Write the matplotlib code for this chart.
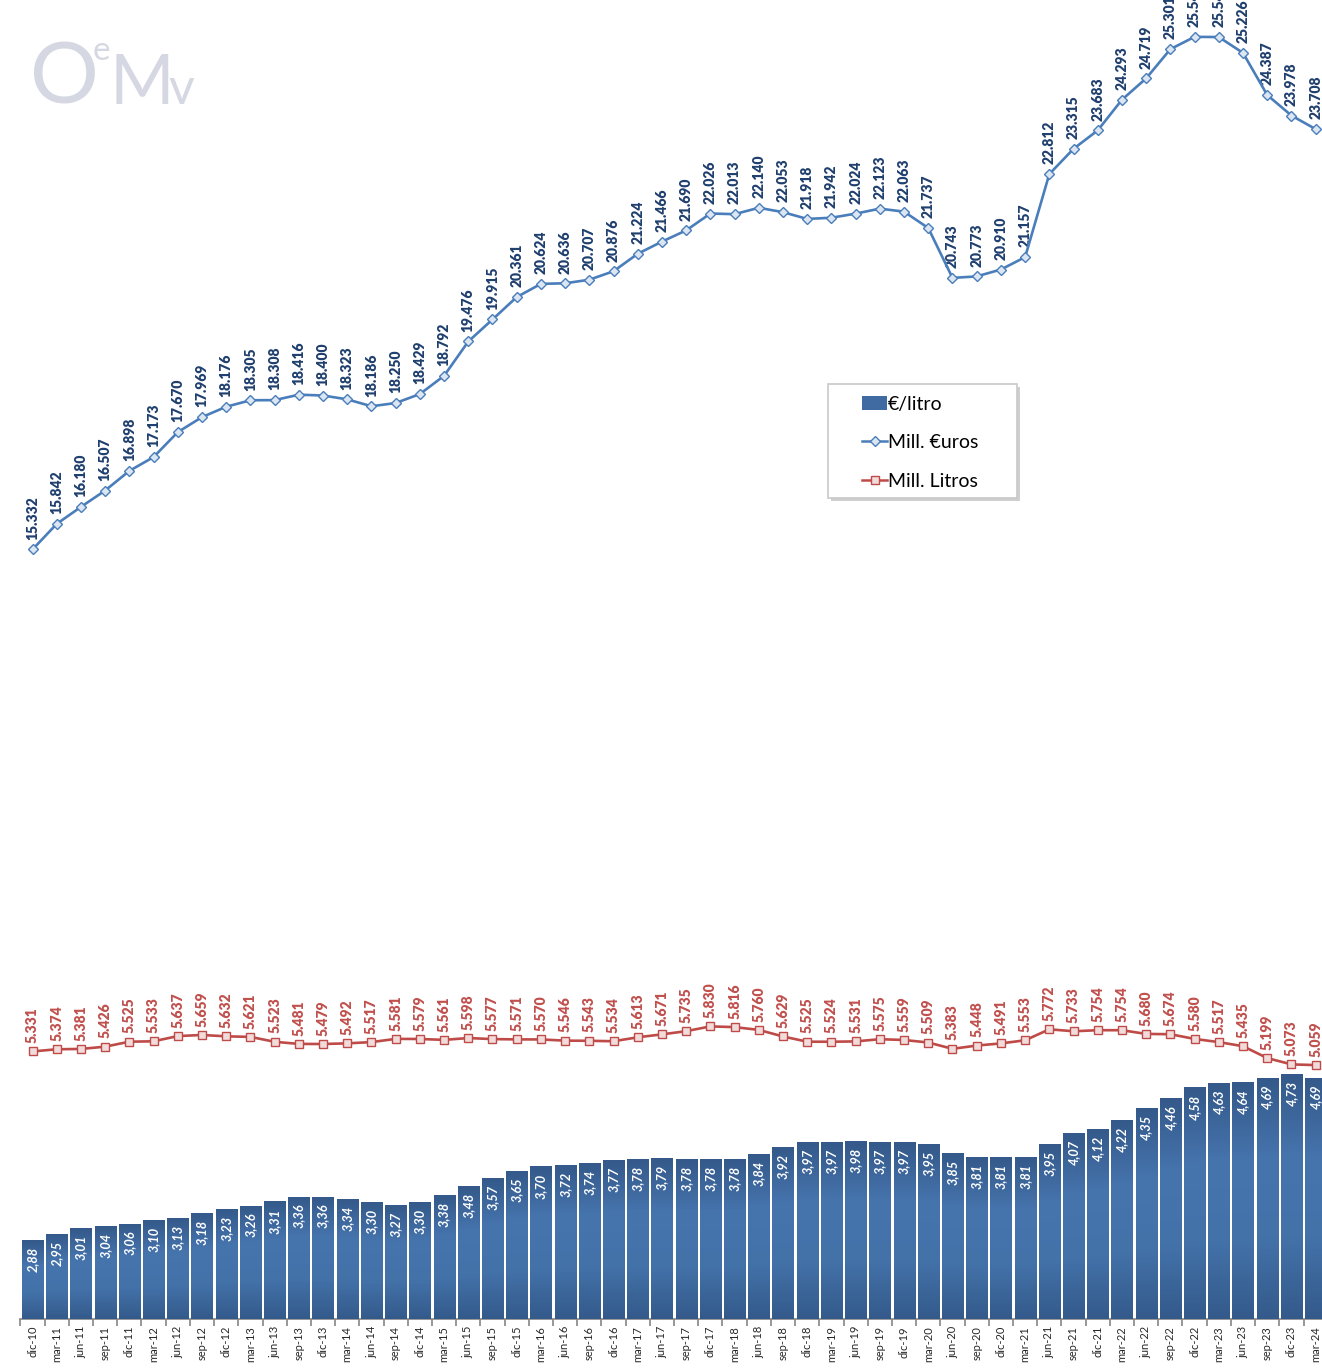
import numpy as np
import matplotlib.pyplot as plt
from matplotlib.colors import LinearSegmentedColormap
from matplotlib.patches import Rectangle, Patch
from matplotlib.lines import Line2D

plt.rcParams['font.family'] = ['Lato', 'DejaVu Sans']

# trimestres
periodos = [
    'dic-10', 'mar-11', 'jun-11', 'sep-11', 'dic-11', 'mar-12', 'jun-12', 'sep-12', 'dic-12',
    'mar-13', 'jun-13', 'sep-13', 'dic-13', 'mar-14', 'jun-14', 'sep-14', 'dic-14',
    'mar-15', 'jun-15', 'sep-15', 'dic-15', 'mar-16', 'jun-16', 'sep-16', 'dic-16',
    'mar-17', 'jun-17', 'sep-17', 'dic-17', 'mar-18', 'jun-18', 'sep-18', 'dic-18',
    'mar-19', 'jun-19', 'sep-19', 'dic-19', 'mar-20', 'jun-20', 'sep-20', 'dic-20',
    'mar-21', 'jun-21', 'sep-21', 'dic-21', 'mar-22', 'jun-22', 'sep-22', 'dic-22',
    'mar-23', 'jun-23', 'sep-23', 'dic-23', 'mar-24',
]

eur_litro = [
    2.88, 2.95, 3.01, 3.04, 3.06, 3.10, 3.13, 3.18, 3.23, 3.26,
    3.31, 3.36, 3.36, 3.34, 3.30, 3.27, 3.30, 3.38, 3.48, 3.57,
    3.65, 3.70, 3.72, 3.74, 3.77, 3.78, 3.79, 3.78, 3.78, 3.78,
    3.84, 3.92, 3.97, 3.97, 3.98, 3.97, 3.97, 3.95, 3.85, 3.81,
    3.81, 3.81, 3.95, 4.07, 4.12, 4.22, 4.35, 4.46, 4.58, 4.63,
    4.64, 4.69, 4.73, 4.69,
]

mill_euros = [
    15332, 15842, 16180, 16507, 16898, 17173, 17670, 17969, 18176, 18305,
    18308, 18416, 18400, 18323, 18186, 18250, 18429, 18792, 19476, 19915,
    20361, 20624, 20636, 20707, 20876, 21224, 21466, 21690, 22026, 22013,
    22140, 22053, 21918, 21942, 22024, 22123, 22063, 21737, 20743, 20773,
    20910, 21157, 22812, 23315, 23683, 24293, 24719, 25301, 25546, 25542,
    25226, 24387, 23978, 23708,
]

mill_litros = [
    5331, 5374, 5381, 5426, 5525, 5533, 5637, 5659, 5632, 5621,
    5523, 5481, 5479, 5492, 5517, 5581, 5579, 5561, 5598, 5577,
    5571, 5570, 5546, 5543, 5534, 5613, 5671, 5735, 5830, 5816,
    5760, 5629, 5525, 5524, 5531, 5575, 5559, 5509, 5383, 5448,
    5491, 5553, 5772, 5733, 5754, 5754, 5680, 5674, 5580, 5517,
    5435, 5199, 5073, 5059,
]

W, H = 1322, 1372
fig = plt.figure(figsize=(W / 100, H / 100), dpi=100)

# el gráfico original está recortado por arriba y por la derecha
paso = 24.21
x_izq, y_base = 20.4, 1319
ax = fig.add_axes([x_izq / W, (H - y_base) / H, len(periodos) * paso / W, y_base / H])
ax2 = ax.twinx()

x = np.arange(len(periodos))

# barras €/litro con degradado
ax.set_ylim(2.0, 2.0 + y_base / 89.73)
ax.set_xlim(-0.5, len(periodos) - 0.5)
barras = ax.bar(x, eur_litro, width=0.87, color='#3F6BA2', zorder=2)
cmap = LinearSegmentedColormap.from_list('barra', ['#34598A', '#4674AD', '#4372A9', '#345A8B'])
grad = np.linspace(0, 1, 256).reshape(-1, 1)
for b in barras:
    x0 = b.get_x()
    im = ax.imshow(grad, extent=[x0, x0 + b.get_width(), 2.0, b.get_height()],
                   aspect='auto', cmap=cmap, origin='upper', zorder=3)
    im.set_clip_path(b)
ax.set_xlim(-0.5, len(periodos) - 0.5)
ax.set_ylim(2.0, 2.0 + y_base / 89.73)

for xi, v in zip(x, eur_litro):
    ax.annotate(f'{v:.2f}'.replace('.', ','), (xi, v), xytext=(0, -5), textcoords='offset points',
                rotation=90, ha='center', va='top', color='white', fontsize=9.2,
                fontweight='bold', fontstyle='italic', zorder=5)

# líneas
ax2.set_ylim(0, y_base / 50.19 * 1000)
ax2.plot(x, mill_euros, color='#4A7EBB', lw=1.9, marker='D', ms=5.5,
         mfc='#DCE6F2', mec='#4A7EBB', mew=1, zorder=4)
ax2.plot(x, mill_litros, color='#BE4B48', lw=1.9, marker='s', ms=6,
         mfc='#F2DCDB', mec='#BE4B48', mew=1, zorder=4)

for xi, v in zip(x, mill_euros):
    ax2.annotate(f'{v:,}'.replace(',', '.'), (xi, v), xytext=(0, 7), textcoords='offset points',
                 rotation=90, ha='center', va='bottom', color='#1F3F6E', fontsize=10,
                 fontweight='heavy')
for xi, v in zip(x, mill_litros):
    ax2.annotate(f'{v:,}'.replace(',', '.'), (xi, v), xytext=(0, 6), textcoords='offset points',
                 rotation=90, ha='center', va='bottom', color='#C0504D', fontsize=10,
                 fontweight='heavy')

# ejes
for a in (ax, ax2):
    for s in ('top', 'right', 'left'):
        a.spines[s].set_visible(False)
    a.set_yticks([])
ax2.spines['bottom'].set_visible(False)
ax.spines['bottom'].set_color('#868686')
ax.spines['bottom'].set_linewidth(1.2)
ax.set_xticks(x)
ax.set_xticklabels(periodos, rotation=90, fontsize=8, color='#262626')
ax.tick_params(axis='x', which='major', length=0, pad=5)
ax.set_xticks(np.arange(len(periodos) + 1) - 0.5, minor=True)
ax.tick_params(axis='x', which='minor', length=5, color='#868686', width=1.2)

# leyenda
lx0, ly0, lx1, ly1 = 828, 384, 1017, 498
fig.patches.append(Rectangle(((lx0 + 3) / W, 1 - (ly1 + 3) / H), (lx1 - lx0) / W, (ly1 - ly0) / H,
                             transform=fig.transFigure, facecolor='#B0B0B0', edgecolor='none',
                             alpha=0.6, zorder=8))
fig.patches.append(Rectangle((lx0 / W, 1 - ly1 / H), (lx1 - lx0) / W, (ly1 - ly0) / H,
                             transform=fig.transFigure, facecolor='white', edgecolor='#C8C8C8',
                             lw=1.2, zorder=9))
handles = [
    Patch(facecolor='#3F6BA2', edgecolor='none'),
    Line2D([], [], color='#4A7EBB', lw=1.8, marker='D', ms=5, mfc='#DCE6F2', mec='#4A7EBB'),
    Line2D([], [], color='#BE4B48', lw=1.8, marker='s', ms=6, mfc='#F2DCDB', mec='#BE4B48'),
]
leg = fig.legend(handles, ['€/litro', 'Mill. €uros', 'Mill. Litros'],
                 loc='upper left', bbox_to_anchor=(862 / W, 1 - 396 / H), frameon=False,
                 fontsize=14, handlelength=1.3, handleheight=0.75, handletextpad=0.05,
                 labelspacing=1.1, borderpad=0.0, borderaxespad=0)
leg.set_zorder(10)

# marca de agua OeMV
gris = '#D5D8E2'
fig.text(30 / W, 1 - 104 / H, 'O', fontsize=62, color=gris, va='baseline')
fig.text(93 / W, 1 - 60 / H, 'e', fontsize=24, color=gris, va='baseline')
fig.text(110 / W, 1 - 104 / H, 'M', fontsize=50, color=gris, va='baseline')
fig.text(168 / W, 1 - 104 / H, 'v', fontsize=36, color=gris, va='baseline')

fig.savefig('out.png', dpi=100)
